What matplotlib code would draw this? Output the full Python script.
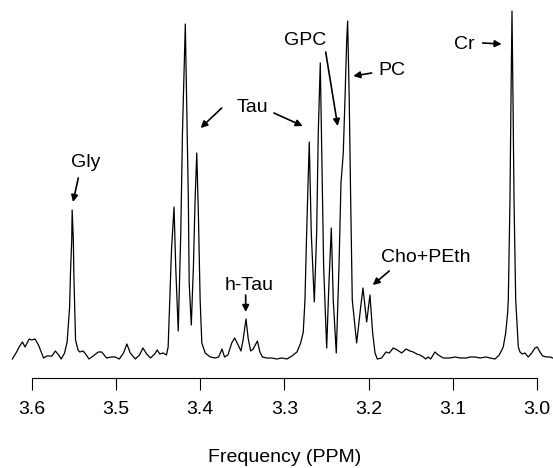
import matplotlib
matplotlib.use("Agg")
import matplotlib.pyplot as plt

plt.rcParams['font.family'] = ['Liberation Sans', 'DejaVu Sans']

# spectrum trace (ppm, intensity in arbitrary units)
ppm = [3.623, 3.618, 3.615, 3.611, 3.608, 3.603, 3.600, 3.596, 3.592, 3.586,
       3.582, 3.576, 3.572, 3.568, 3.565, 3.561, 3.558, 3.555, 3.554, 3.5525,
       3.552, 3.5506, 3.550, 3.549, 3.548, 3.545, 3.543, 3.539, 3.536, 3.532,
       3.527, 3.521, 3.517, 3.511, 3.505, 3.501, 3.496, 3.491, 3.487, 3.483,
       3.477, 3.472, 3.468, 3.4635, 3.459, 3.454, 3.451, 3.448, 3.444, 3.440,
       3.438, 3.436, 3.434, 3.431, 3.429, 3.426, 3.423, 3.421, 3.419, 3.4176,
       3.416, 3.414, 3.413, 3.4105, 3.408, 3.406, 3.404, 3.402, 3.400, 3.398,
       3.394, 3.388, 3.382, 3.378, 3.374, 3.371, 3.367, 3.3625, 3.359, 3.356,
       3.3515, 3.349, 3.3455, 3.343, 3.340, 3.337, 3.332, 3.329, 3.326, 3.321,
       3.315, 3.309, 3.303, 3.297, 3.291, 3.285, 3.2806, 3.2775, 3.2755, 3.2735,
       3.2704, 3.268, 3.2644, 3.2616, 3.2597, 3.2573, 3.2553, 3.2533, 3.2497, 3.247,
       3.2442, 3.2419, 3.2383, 3.2351, 3.2327, 3.230, 3.228, 3.2259, 3.2248, 3.2229,
       3.2212, 3.2193, 3.2141, 3.2093, 3.2066, 3.2022, 3.1983, 3.1951, 3.1923, 3.1896,
       3.1844, 3.1793, 3.1754, 3.1706, 3.1659, 3.1606, 3.1555, 3.1508, 3.1469, 3.1428,
       3.1389, 3.135, 3.1321, 3.129, 3.1262, 3.1211, 3.1172, 3.1112, 3.1033, 3.0973,
       3.0914, 3.0834, 3.0795, 3.0736, 3.0676, 3.0605, 3.0558, 3.0498, 3.0447, 3.040,
       3.0371, 3.0348, 3.034, 3.032, 3.0308, 3.0296, 3.0284, 3.0272, 3.0252, 3.0221,
       3.0201, 3.0174, 3.0142, 3.0103, 3.0062, 3.0023, 2.9996, 2.9964, 2.9932, 2.9884,
       2.9845, 2.9813]
intensity = [1, 8, 13, 18, 13, 21, 20, 21, 15, 2,
             4, 4, 9, 5, 1, 7, 18, 53, 87, 120,
             150, 120, 87, 53, 20, 10, 8, 9, 6, 1,
             4, 8, 8, 2, 3, 3, 1, 7, 16, 7,
             1, 5, 12, 6, 2, 6, 10, 6, 7, 5,
             13, 60, 110, 153, 93, 29, 127, 227, 293, 336,
             260, 160, 77, 35, 93, 160, 207, 143, 60, 17,
             7, 3, 2, 3, 11, 3, 5, 17, 22, 17,
             9, 20, 41, 22, 9, 11, 19, 8, 3, 2,
             2, 1, 2, 1, 4, 8, 17, 28, 60, 127,
             218, 127, 58, 127, 227, 297, 193, 93, 12, 77,
             132, 60, 7, 93, 177, 207, 260, 320, 339, 260,
             160, 60, 17, 53, 72, 38, 65, 27, 7, 1,
             2, 8, 7, 12, 10, 7, 11, 9, 8, 6,
             5, 3, 1, 3, 1, 8, 5, 2, 2, 3,
             2, 2, 3, 3, 2, 3, 2, 1, 5, 13,
             27, 47, 60, 160, 260, 349, 260, 160, 60, 13,
             8, 6, 7, 3, 7, 12, 13, 8, 4, 3,
             3, 2]

tick_vals = [3.6, 3.5, 3.4, 3.3, 3.2, 3.1, 3.0]
tick_labels = ['3.6', '3.5', '3.4', '3.3', '3.2', '3.1', '3.0']

fig = plt.figure(figsize=(5.53, 4.68), dpi=100)
ax = fig.add_axes([0, 0.2201, 1, 0.7692])
ax.plot(ppm, intensity, color='black', lw=0.9)
ax.set_xlim(3.6377, 2.9809)
ax.set_ylim(-5, 355)

for s in ['top', 'right', 'left']:
    ax.spines[s].set_visible(False)
ax.spines['bottom'].set_position(('outward', 9.4))
ax.spines['bottom'].set_bounds(3.0, 3.6)
ax.spines['bottom'].set_linewidth(0.8)
ax.set_yticks([])
ax.set_xticks(tick_vals)
ax.set_xticklabels(tick_labels, fontsize=14)
ax.tick_params(axis='x', length=8.6, width=0.8, pad=8)
fig.text(284.7 / 553, 1 - 457 / 468, 'Frequency (PPM)', fontsize=14,
         ha='center', va='center')

arrow = dict(arrowstyle='-|>', color='black', lw=1.2, mutation_scale=10,
             shrinkA=0, shrinkB=0)
fs = 14
ax.text(3.536, 193, 'Gly', fontsize=fs, ha='center', va='baseline')
ax.annotate('', xy=(3.551, 158), xytext=(3.5447, 182), arrowprops=arrow)
ax.text(3.338, 248, 'Tau', fontsize=fs, ha='center', va='baseline')
ax.annotate('', xy=(3.3994, 232), xytext=(3.3744, 252), arrowprops=arrow)
ax.annotate('', xy=(3.2782, 234), xytext=(3.3123, 247), arrowprops=arrow)
ax.text(3.2755, 315, 'GPC', fontsize=fs, ha='center', va='baseline')
ax.annotate('', xy=(3.2366, 234), xytext=(3.2509, 308), arrowprops=arrow)
ax.text(3.1727, 285, 'PC', fontsize=fs, ha='center', va='baseline')
ax.annotate('', xy=(3.2181, 284), xytext=(3.1963, 287), arrowprops=arrow)
ax.text(3.0866, 311, 'Cr', fontsize=fs, ha='center', va='baseline')
ax.annotate('', xy=(3.0419, 316), xytext=(3.0644, 317), arrowprops=arrow)
ax.text(3.3423, 70, 'h-Tau', fontsize=fs, ha='center', va='baseline')
ax.annotate('', xy=(3.3459, 48), xytext=(3.3459, 65), arrowprops=arrow)
ax.text(3.132, 98, 'Cho+PEth', fontsize=fs, ha='center', va='baseline')
ax.annotate('', xy=(3.195, 75), xytext=(3.1754, 89), arrowprops=arrow)

fig.savefig('out.png', dpi=100)
